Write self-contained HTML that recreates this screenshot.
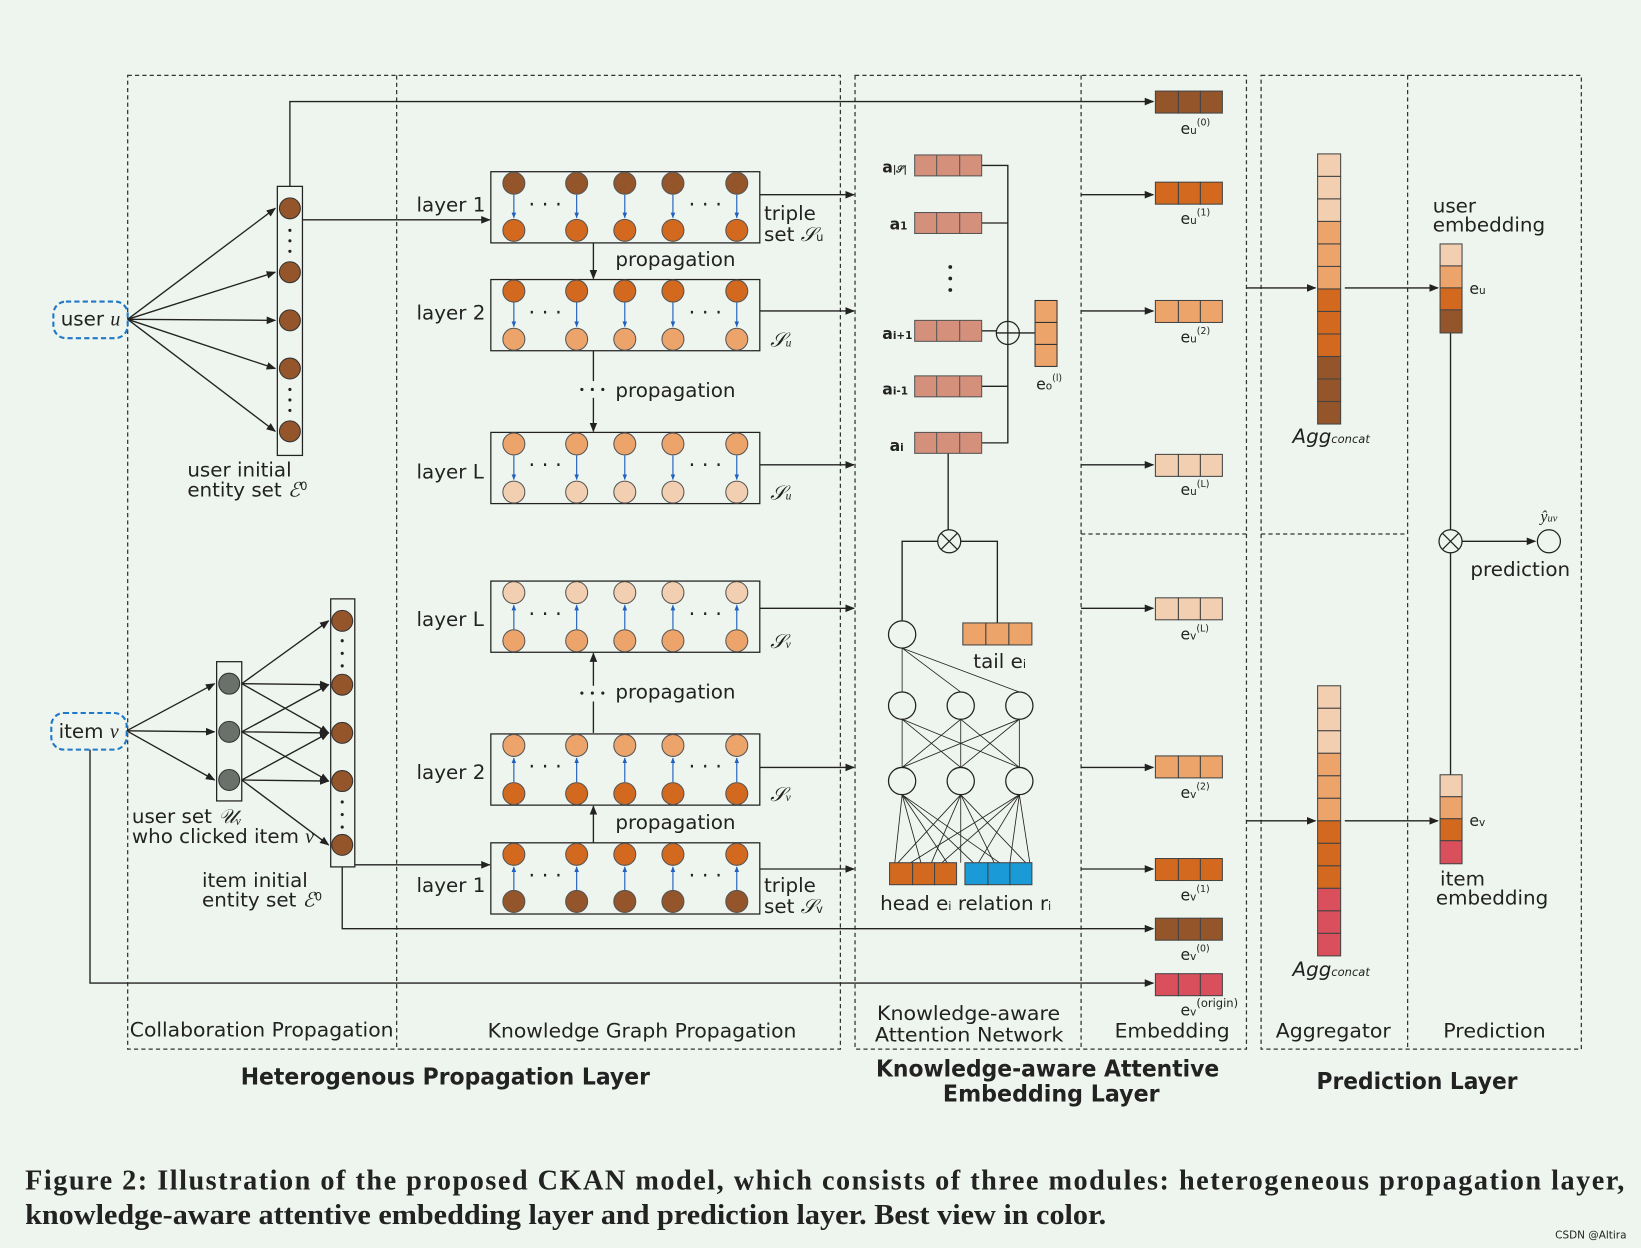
<!DOCTYPE html>
<html><head><meta charset="utf-8"><style>
html,body{margin:0;padding:0;background:#eef5ee;}
svg{display:block}
text{font-family:"DejaVu Sans","Liberation Sans",sans-serif;fill:#222}
.s{font-family:"Liberation Serif",serif}
</style></head><body>
<svg width="1641" height="1248" viewBox="0 0 1568 1192" preserveAspectRatio="none" xmlns="http://www.w3.org/2000/svg">
<defs>
<marker id="a" viewBox="0 0 10 10" refX="9" refY="5" markerWidth="7" markerHeight="7" orient="auto"><path d="M0,1L10,5L0,9z" fill="#222"/></marker>
<marker id="b" viewBox="0 0 10 10" refX="9" refY="5" markerWidth="5" markerHeight="5" orient="auto"><path d="M0,1L10,5L0,9z" fill="#2060c0"/></marker>
</defs>
<rect width="1568" height="1192" fill="#eef5ee"/>
<g fill="none" stroke="#333" stroke-dasharray="4,3" stroke-width="1.2">
<rect x="122" y="72" width="681" height="930"/><line x1="379" y1="72" x2="379" y2="1002"/>
<rect x="817" y="72" width="374" height="930"/><line x1="1033" y1="72" x2="1033" y2="1002"/><line x1="1033" y1="510" x2="1191" y2="510"/>
<rect x="1205" y="72" width="306" height="930"/><line x1="1345" y1="72" x2="1345" y2="1002"/><line x1="1205" y1="510" x2="1345" y2="510"/>
</g>
<g stroke="#222" stroke-width="1.3" fill="none">
<line x1="122" y1="305" x2="263" y2="199" marker-end="url(#a)"/><line x1="122" y1="305" x2="263" y2="260" marker-end="url(#a)"/><line x1="122" y1="305" x2="263" y2="306" marker-end="url(#a)"/><line x1="122" y1="305" x2="263" y2="352" marker-end="url(#a)"/><line x1="122" y1="305" x2="263" y2="412" marker-end="url(#a)"/>
<polyline points="277,178 277,97 1102,97" marker-end="url(#a)"/>
<line x1="289" y1="210" x2="468" y2="210" marker-end="url(#a)"/>
<line x1="121" y1="698" x2="205" y2="653" marker-end="url(#a)"/><line x1="121" y1="698" x2="205" y2="699" marker-end="url(#a)"/><line x1="121" y1="698" x2="205" y2="745" marker-end="url(#a)"/>
<line x1="231" y1="653" x2="314" y2="593" marker-end="url(#a)"/><line x1="231" y1="653" x2="314" y2="654" marker-end="url(#a)"/><line x1="231" y1="653" x2="314" y2="700" marker-end="url(#a)"/>
<line x1="231" y1="699" x2="314" y2="654" marker-end="url(#a)"/><line x1="231" y1="699" x2="314" y2="700" marker-end="url(#a)"/><line x1="231" y1="699" x2="314" y2="746" marker-end="url(#a)"/>
<line x1="231" y1="745" x2="314" y2="700" marker-end="url(#a)"/><line x1="231" y1="745" x2="314" y2="746" marker-end="url(#a)"/><line x1="231" y1="745" x2="314" y2="807" marker-end="url(#a)"/>
<line x1="339" y1="826" x2="468" y2="826" marker-end="url(#a)"/>
<polyline points="327,828 327,887 1102,887" marker-end="url(#a)"/>
<polyline points="86,716 86,939 1102,939" marker-end="url(#a)"/>
<line x1="567" y1="232" x2="567" y2="266" marker-end="url(#a)"/><line x1="567" y1="335" x2="567" y2="364"/><line x1="567" y1="380" x2="567" y2="412" marker-end="url(#a)"/>
<line x1="567" y1="700" x2="567" y2="670"/><line x1="567" y1="655" x2="567" y2="624" marker-end="url(#a)"/><line x1="567" y1="805" x2="567" y2="770" marker-end="url(#a)"/>
<line x1="726" y1="186" x2="816" y2="186" marker-end="url(#a)"/><line x1="726" y1="297" x2="816" y2="297" marker-end="url(#a)"/><line x1="726" y1="444" x2="816" y2="444" marker-end="url(#a)"/>
<line x1="726" y1="581" x2="816" y2="581" marker-end="url(#a)"/><line x1="726" y1="733" x2="816" y2="733" marker-end="url(#a)"/><line x1="726" y1="830" x2="816" y2="830" marker-end="url(#a)"/>
<line x1="1033" y1="186" x2="1102" y2="186" marker-end="url(#a)"/><line x1="1033" y1="297" x2="1102" y2="297" marker-end="url(#a)"/><line x1="1033" y1="444" x2="1102" y2="444" marker-end="url(#a)"/>
<line x1="1033" y1="581" x2="1102" y2="581" marker-end="url(#a)"/><line x1="1033" y1="733" x2="1102" y2="733" marker-end="url(#a)"/><line x1="1033" y1="830" x2="1102" y2="830" marker-end="url(#a)"/>
<polyline points="938,158 963,158 963,423 938,423"/><line x1="938" y1="213" x2="963" y2="213"/><line x1="938" y1="316" x2="952" y2="316"/><line x1="938" y1="369" x2="963" y2="369"/>
<line x1="974" y1="318" x2="989" y2="318"/>
<line x1="906" y1="433" x2="906" y2="506"/>
<polyline points="896,517 862,517 862,593"/><polyline points="918,517 953,517 953,595"/>
<g stroke-width="0.8">
<line x1="862" y1="619" x2="862" y2="661"/><line x1="862" y1="619" x2="918" y2="661"/><line x1="862" y1="619" x2="974" y2="661"/>
<line x1="862" y1="687" x2="862" y2="733"/><line x1="862" y1="687" x2="918" y2="733"/><line x1="862" y1="687" x2="974" y2="733"/>
<line x1="918" y1="687" x2="862" y2="733"/><line x1="918" y1="687" x2="918" y2="733"/><line x1="918" y1="687" x2="974" y2="733"/>
<line x1="974" y1="687" x2="862" y2="733"/><line x1="974" y1="687" x2="918" y2="733"/><line x1="974" y1="687" x2="974" y2="733"/>
<line x1="862" y1="759" x2="855" y2="824"/><line x1="862" y1="759" x2="880" y2="824"/><line x1="862" y1="759" x2="905" y2="824"/><line x1="862" y1="759" x2="930" y2="824"/><line x1="862" y1="759" x2="955" y2="824"/>
<line x1="918" y1="759" x2="858" y2="824"/><line x1="918" y1="759" x2="890" y2="824"/><line x1="918" y1="759" x2="918" y2="824"/><line x1="918" y1="759" x2="950" y2="824"/><line x1="918" y1="759" x2="980" y2="824"/>
<line x1="974" y1="759" x2="870" y2="824"/><line x1="974" y1="759" x2="900" y2="824"/><line x1="974" y1="759" x2="935" y2="824"/><line x1="974" y1="759" x2="965" y2="824"/><line x1="974" y1="759" x2="984" y2="824"/>
</g>
<line x1="1191" y1="275" x2="1257" y2="275" marker-end="url(#a)"/><line x1="1285" y1="275" x2="1374" y2="275" marker-end="url(#a)"/>
<line x1="1191" y1="784" x2="1257" y2="784" marker-end="url(#a)"/><line x1="1285" y1="784" x2="1374" y2="784" marker-end="url(#a)"/>
<line x1="1386" y1="318" x2="1386" y2="506"/><line x1="1386" y1="528" x2="1386" y2="740"/>
<line x1="1397" y1="517" x2="1467" y2="517" marker-end="url(#a)"/>
</g>
<rect x="265" y="178" width="24" height="257" fill="none" stroke="#222" stroke-width="1.2"/>
<rect x="207" y="632" width="24" height="133" fill="none" stroke="#222" stroke-width="1.2"/>
<rect x="316" y="572" width="23" height="256" fill="none" stroke="#222" stroke-width="1.2"/>
<g stroke="#333" stroke-width="1" fill="#94552a">
<circle cx="277" cy="199" r="10"/><circle cx="277" cy="260" r="10"/><circle cx="277" cy="306" r="10"/><circle cx="277" cy="352" r="10"/><circle cx="277" cy="412" r="10"/>
<circle cx="327" cy="593" r="10"/><circle cx="327" cy="654" r="10"/><circle cx="327" cy="700" r="10"/><circle cx="327" cy="746" r="10"/><circle cx="327" cy="807" r="10"/>
<g fill="#6a706a"><circle cx="219" cy="653" r="10"/><circle cx="219" cy="699" r="10"/><circle cx="219" cy="745" r="10"/></g>
</g>
<g fill="#222"><circle cx="277" cy="220" r="1.5"/><circle cx="277" cy="230" r="1.5"/><circle cx="277" cy="240" r="1.5"/><circle cx="277" cy="372" r="1.5"/><circle cx="277" cy="382" r="1.5"/><circle cx="277" cy="392" r="1.5"/>
<circle cx="327" cy="612" r="1.5"/><circle cx="327" cy="624" r="1.5"/><circle cx="327" cy="636" r="1.5"/><circle cx="327" cy="766" r="1.5"/><circle cx="327" cy="778" r="1.5"/><circle cx="327" cy="790" r="1.5"/>
<circle cx="908" cy="255" r="1.8"/><circle cx="908" cy="266" r="1.8"/><circle cx="908" cy="277" r="1.8"/>
<circle cx="556" cy="372" r="1.5"/><circle cx="566" cy="372" r="1.5"/><circle cx="576" cy="372" r="1.5"/>
<circle cx="556" cy="662" r="1.5"/><circle cx="566" cy="662" r="1.5"/><circle cx="576" cy="662" r="1.5"/>
</g>
<g stroke="#222" stroke-width="1.2" fill="none">
<rect x="469" y="164" width="257" height="68"/><rect x="469" y="267" width="257" height="68"/><rect x="469" y="413" width="257" height="68"/>
<rect x="469" y="555" width="257" height="68"/><rect x="469" y="701" width="257" height="68"/><rect x="469" y="805" width="257" height="68"/>
</g>
<g stroke="#2060c0" stroke-width="1.1">
<g marker-end="url(#b)">
<line x1="491" y1="186" x2="491" y2="208"/><line x1="551" y1="186" x2="551" y2="208"/><line x1="597" y1="186" x2="597" y2="208"/><line x1="643" y1="186" x2="643" y2="208"/><line x1="704" y1="186" x2="704" y2="208"/>
<line x1="491" y1="289" x2="491" y2="312"/><line x1="551" y1="289" x2="551" y2="312"/><line x1="597" y1="289" x2="597" y2="312"/><line x1="643" y1="289" x2="643" y2="312"/><line x1="704" y1="289" x2="704" y2="312"/>
<line x1="491" y1="435" x2="491" y2="458"/><line x1="551" y1="435" x2="551" y2="458"/><line x1="597" y1="435" x2="597" y2="458"/><line x1="643" y1="435" x2="643" y2="458"/><line x1="704" y1="435" x2="704" y2="458"/>
<line x1="491" y1="601" x2="491" y2="578"/><line x1="551" y1="601" x2="551" y2="578"/><line x1="597" y1="601" x2="597" y2="578"/><line x1="643" y1="601" x2="643" y2="578"/><line x1="704" y1="601" x2="704" y2="578"/>
<line x1="491" y1="747" x2="491" y2="724"/><line x1="551" y1="747" x2="551" y2="724"/><line x1="597" y1="747" x2="597" y2="724"/><line x1="643" y1="747" x2="643" y2="724"/><line x1="704" y1="747" x2="704" y2="724"/>
<line x1="491" y1="850" x2="491" y2="828"/><line x1="551" y1="850" x2="551" y2="828"/><line x1="597" y1="850" x2="597" y2="828"/><line x1="643" y1="850" x2="643" y2="828"/><line x1="704" y1="850" x2="704" y2="828"/>
</g></g>
<g stroke="#555" stroke-width="1">
<g fill="#94552a"><circle cx="491" cy="175" r="10.5"/><circle cx="551" cy="175" r="10.5"/><circle cx="597" cy="175" r="10.5"/><circle cx="643" cy="175" r="10.5"/><circle cx="704" cy="175" r="10.5"/>
<circle cx="491" cy="861" r="10.5"/><circle cx="551" cy="861" r="10.5"/><circle cx="597" cy="861" r="10.5"/><circle cx="643" cy="861" r="10.5"/><circle cx="704" cy="861" r="10.5"/></g>
<g fill="#d2691e"><circle cx="491" cy="220" r="10.5"/><circle cx="551" cy="220" r="10.5"/><circle cx="597" cy="220" r="10.5"/><circle cx="643" cy="220" r="10.5"/><circle cx="704" cy="220" r="10.5"/>
<circle cx="491" cy="278" r="10.5"/><circle cx="551" cy="278" r="10.5"/><circle cx="597" cy="278" r="10.5"/><circle cx="643" cy="278" r="10.5"/><circle cx="704" cy="278" r="10.5"/>
<circle cx="491" cy="758" r="10.5"/><circle cx="551" cy="758" r="10.5"/><circle cx="597" cy="758" r="10.5"/><circle cx="643" cy="758" r="10.5"/><circle cx="704" cy="758" r="10.5"/>
<circle cx="491" cy="816" r="10.5"/><circle cx="551" cy="816" r="10.5"/><circle cx="597" cy="816" r="10.5"/><circle cx="643" cy="816" r="10.5"/><circle cx="704" cy="816" r="10.5"/></g>
<g fill="#eda46b"><circle cx="491" cy="324" r="10.5"/><circle cx="551" cy="324" r="10.5"/><circle cx="597" cy="324" r="10.5"/><circle cx="643" cy="324" r="10.5"/><circle cx="704" cy="324" r="10.5"/>
<circle cx="491" cy="424" r="10.5"/><circle cx="551" cy="424" r="10.5"/><circle cx="597" cy="424" r="10.5"/><circle cx="643" cy="424" r="10.5"/><circle cx="704" cy="424" r="10.5"/>
<circle cx="491" cy="612" r="10.5"/><circle cx="551" cy="612" r="10.5"/><circle cx="597" cy="612" r="10.5"/><circle cx="643" cy="612" r="10.5"/><circle cx="704" cy="612" r="10.5"/>
<circle cx="491" cy="712" r="10.5"/><circle cx="551" cy="712" r="10.5"/><circle cx="597" cy="712" r="10.5"/><circle cx="643" cy="712" r="10.5"/><circle cx="704" cy="712" r="10.5"/></g>
<g fill="#f2cfb0"><circle cx="491" cy="470" r="10.5"/><circle cx="551" cy="470" r="10.5"/><circle cx="597" cy="470" r="10.5"/><circle cx="643" cy="470" r="10.5"/><circle cx="704" cy="470" r="10.5"/>
<circle cx="491" cy="566" r="10.5"/><circle cx="551" cy="566" r="10.5"/><circle cx="597" cy="566" r="10.5"/><circle cx="643" cy="566" r="10.5"/><circle cx="704" cy="566" r="10.5"/></g>
</g>
<g font-size="20" fill="#222">
<text x="505" y="202">· · ·</text><text x="658" y="202">· · ·</text><text x="505" y="305">· · ·</text><text x="658" y="305">· · ·</text>
<text x="505" y="451">· · ·</text><text x="658" y="451">· · ·</text><text x="505" y="593">· · ·</text><text x="658" y="593">· · ·</text>
<text x="505" y="739">· · ·</text><text x="658" y="739">· · ·</text><text x="505" y="843">· · ·</text><text x="658" y="843">· · ·</text>
</g>
<g stroke="#555" stroke-width="1" fill="#d4907a">
<rect x="874" y="148" width="64" height="20"/><rect x="874" y="203" width="64" height="20"/><rect x="874" y="306" width="64" height="20"/><rect x="874" y="359" width="64" height="20"/><rect x="874" y="413" width="64" height="20"/>
</g>
<g stroke="#555" stroke-width="1">
<line x1="895" y1="148" x2="895" y2="168"/><line x1="917" y1="148" x2="917" y2="168"/><line x1="895" y1="203" x2="895" y2="223"/><line x1="917" y1="203" x2="917" y2="223"/>
<line x1="895" y1="306" x2="895" y2="326"/><line x1="917" y1="306" x2="917" y2="326"/><line x1="895" y1="359" x2="895" y2="379"/><line x1="917" y1="359" x2="917" y2="379"/>
<line x1="895" y1="413" x2="895" y2="433"/><line x1="917" y1="413" x2="917" y2="433"/>
</g>
<g stroke="#333" fill="#eda46b"><rect x="989" y="287" width="21" height="21"/><rect x="989" y="308" width="21" height="21"/><rect x="989" y="329" width="21" height="21"/></g>
<g stroke="#222" stroke-width="1.2" fill="#eef5ee">
<circle cx="963" cy="318" r="11"/><line x1="952" y1="318" x2="974" y2="318"/><line x1="963" y1="307" x2="963" y2="329"/>
<circle cx="907" cy="517" r="11"/><line x1="899" y1="509" x2="915" y2="525"/><line x1="915" y1="509" x2="899" y2="525"/>
<circle cx="1386" cy="517" r="11"/><line x1="1378" y1="509" x2="1394" y2="525"/><line x1="1394" y1="509" x2="1378" y2="525"/>
<circle cx="1480" cy="517" r="11"/>
<circle cx="862" cy="606" r="13"/><circle cx="862" cy="674" r="13"/><circle cx="918" cy="674" r="13"/><circle cx="974" cy="674" r="13"/>
<circle cx="862" cy="746" r="13"/><circle cx="918" cy="746" r="13"/><circle cx="974" cy="746" r="13"/>
</g>
<g stroke="#444" stroke-width="1">
<g fill="#eda46b"><rect x="920" y="595" width="22" height="21"/><rect x="942" y="595" width="22" height="21"/><rect x="964" y="595" width="22" height="21"/></g>
<g fill="#d2691e"><rect x="850" y="824" width="22" height="21"/><rect x="872" y="824" width="21" height="21"/><rect x="893" y="824" width="21" height="21"/></g>
<g fill="#1a9bd8"><rect x="922" y="824" width="22" height="21"/><rect x="944" y="824" width="21" height="21"/><rect x="965" y="824" width="21" height="21"/></g>
<g fill="#94552a"><rect x="1104" y="87" width="22" height="21"/><rect x="1126" y="87" width="21" height="21"/><rect x="1147" y="87" width="21" height="21"/>
<rect x="1104" y="877" width="22" height="21"/><rect x="1126" y="877" width="21" height="21"/><rect x="1147" y="877" width="21" height="21"/></g>
<g fill="#d2691e"><rect x="1104" y="174" width="22" height="21"/><rect x="1126" y="174" width="21" height="21"/><rect x="1147" y="174" width="21" height="21"/>
<rect x="1104" y="820" width="22" height="21"/><rect x="1126" y="820" width="21" height="21"/><rect x="1147" y="820" width="21" height="21"/></g>
<g fill="#eda46b"><rect x="1104" y="287" width="22" height="21"/><rect x="1126" y="287" width="21" height="21"/><rect x="1147" y="287" width="21" height="21"/>
<rect x="1104" y="722" width="22" height="21"/><rect x="1126" y="722" width="21" height="21"/><rect x="1147" y="722" width="21" height="21"/></g>
<g fill="#f2cfb0"><rect x="1104" y="434" width="22" height="21"/><rect x="1126" y="434" width="21" height="21"/><rect x="1147" y="434" width="21" height="21"/>
<rect x="1104" y="571" width="22" height="21"/><rect x="1126" y="571" width="21" height="21"/><rect x="1147" y="571" width="21" height="21"/></g>
<g fill="#d94f5c"><rect x="1104" y="930" width="22" height="21"/><rect x="1126" y="930" width="21" height="21"/><rect x="1147" y="930" width="21" height="21"/></g>
<rect x="1259" y="147" width="22" height="21.5" fill="#f2cfb0"/><rect x="1259" y="168.5" width="22" height="21.5" fill="#f2cfb0"/><rect x="1259" y="190" width="22" height="21.5" fill="#f2cfb0"/>
<rect x="1259" y="211.5" width="22" height="21.5" fill="#eda46b"/><rect x="1259" y="233" width="22" height="21.5" fill="#eda46b"/><rect x="1259" y="254.5" width="22" height="21.5" fill="#eda46b"/>
<rect x="1259" y="276" width="22" height="21.5" fill="#d2691e"/><rect x="1259" y="297.5" width="22" height="21.5" fill="#d2691e"/><rect x="1259" y="319" width="22" height="21.5" fill="#d2691e"/>
<rect x="1259" y="340.5" width="22" height="21.5" fill="#94552a"/><rect x="1259" y="362" width="22" height="21.5" fill="#94552a"/><rect x="1259" y="383.5" width="22" height="21.5" fill="#94552a"/>
<rect x="1259" y="655" width="22" height="21.5" fill="#f2cfb0"/><rect x="1259" y="676.5" width="22" height="21.5" fill="#f2cfb0"/><rect x="1259" y="698" width="22" height="21.5" fill="#f2cfb0"/>
<rect x="1259" y="719.5" width="22" height="21.5" fill="#eda46b"/><rect x="1259" y="741" width="22" height="21.5" fill="#eda46b"/><rect x="1259" y="762.5" width="22" height="21.5" fill="#eda46b"/>
<rect x="1259" y="784" width="22" height="21.5" fill="#d2691e"/><rect x="1259" y="805.5" width="22" height="21.5" fill="#d2691e"/><rect x="1259" y="827" width="22" height="21.5" fill="#d2691e"/>
<rect x="1259" y="848.5" width="22" height="21.5" fill="#d94f5c"/><rect x="1259" y="870" width="22" height="21.5" fill="#d94f5c"/><rect x="1259" y="891.5" width="22" height="21.5" fill="#d94f5c"/>
<rect x="1376" y="233" width="21" height="21" fill="#f2cfb0"/><rect x="1376" y="254" width="21" height="21" fill="#eda46b"/><rect x="1376" y="275" width="21" height="21" fill="#d2691e"/><rect x="1376" y="296" width="21" height="22" fill="#94552a"/>
<rect x="1376" y="740" width="21" height="21" fill="#f2cfb0"/><rect x="1376" y="761" width="21" height="21" fill="#eda46b"/><rect x="1376" y="782" width="21" height="21" fill="#d2691e"/><rect x="1376" y="803" width="21" height="22" fill="#d94f5c"/>
</g>
<rect x="51" y="288" width="71" height="35" rx="12" fill="none" stroke="#1f78c8" stroke-width="2" stroke-dasharray="5,3"/>
<rect x="49" y="681" width="72" height="35" rx="12" fill="none" stroke="#1f78c8" stroke-width="2" stroke-dasharray="5,3"/>
<g font-size="19">
<text x="58" y="311">user <tspan class="s" font-style="italic">u</tspan></text>
<text x="56" y="705">item <tspan class="s" font-style="italic">v</tspan></text>
<text x="179" y="455">user initial</text><text x="179" y="474">entity set <tspan class="s" font-style="italic">ℰ</tspan><tspan font-size="11" dy="-6">0</tspan></text>
<text x="126" y="786">user set <tspan class="s" font-style="italic">𝒰ᵥ</tspan></text><text x="126" y="805">who clicked item <tspan class="s" font-style="italic">v</tspan></text>
<text x="193" y="847">item initial</text><text x="193" y="866">entity set <tspan class="s" font-style="italic">ℰ</tspan><tspan font-size="11" dy="-6">0</tspan></text>
<text x="398" y="202">layer 1</text><text x="398" y="305">layer 2</text><text x="398" y="457">layer L</text>
<text x="398" y="598">layer L</text><text x="398" y="744">layer 2</text><text x="398" y="852">layer 1</text>
<text x="588" y="254">propagation</text><text x="588" y="379">propagation</text><text x="588" y="667">propagation</text><text x="588" y="792">propagation</text>
<text x="730" y="210">triple</text><text x="730" y="230">set <tspan class="s" font-style="italic">𝒮</tspan><tspan font-size="11">u</tspan></text>
<text x="736" y="331" class="s" font-style="italic">𝒮<tspan font-size="11">u</tspan></text><text x="736" y="477" class="s" font-style="italic">𝒮<tspan font-size="11">u</tspan></text>
<text x="736" y="619" class="s" font-style="italic">𝒮<tspan font-size="11">v</tspan></text><text x="736" y="765" class="s" font-style="italic">𝒮<tspan font-size="11">v</tspan></text>
<text x="730" y="852">triple</text><text x="730" y="872">set <tspan class="s" font-style="italic">𝒮</tspan><tspan font-size="11">v</tspan></text>
<text x="930" y="638">tail e<tspan font-size="11">i</tspan></text>
<text x="841" y="869">head e<tspan font-size="11">i</tspan> relation r<tspan font-size="11">i</tspan></text>
<text x="1405" y="550">prediction</text>
<text x="1369" y="203">user</text><text x="1369" y="221">embedding</text>
<text x="1376" y="846">item</text><text x="1372" y="864">embedding</text>
<text x="1404" y="281" font-size="15">e<tspan font-size="10">u</tspan></text><text x="1404" y="789" font-size="15">e<tspan font-size="10">v</tspan></text>
<text x="1235" y="423" font-style="italic">Agg<tspan font-size="11">concat</tspan></text><text x="1235" y="932" font-style="italic">Agg<tspan font-size="11">concat</tspan></text>
<text x="1472" y="498" class="s" font-style="italic" font-size="15">ŷ<tspan font-size="10">uv</tspan></text>
</g>
<g font-size="15" font-weight="bold">
<text x="843" y="165">a<tspan font-size="9">|𝒮|</tspan></text><text x="850" y="219">a<tspan font-size="10">1</tspan></text><text x="843" y="324">a<tspan font-size="10">i+1</tspan></text><text x="843" y="377">a<tspan font-size="10">i-1</tspan></text><text x="850" y="431">a<tspan font-size="10">i</tspan></text>
</g>
<g font-size="15">
<text x="990" y="372">e<tspan font-size="10">o</tspan><tspan font-size="9" dy="-8">(l)</tspan></text>
<text x="1128" y="128">e<tspan font-size="10">u</tspan><tspan font-size="9" dy="-8">(0)</tspan></text><text x="1128" y="214">e<tspan font-size="10">u</tspan><tspan font-size="9" dy="-8">(1)</tspan></text>
<text x="1128" y="327">e<tspan font-size="10">u</tspan><tspan font-size="9" dy="-8">(2)</tspan></text><text x="1128" y="473">e<tspan font-size="10">u</tspan><tspan font-size="9" dy="-8">(L)</tspan></text>
<text x="1128" y="611">e<tspan font-size="10">v</tspan><tspan font-size="9" dy="-8">(L)</tspan></text><text x="1128" y="762">e<tspan font-size="10">v</tspan><tspan font-size="9" dy="-8">(2)</tspan></text>
<text x="1128" y="860">e<tspan font-size="10">v</tspan><tspan font-size="9" dy="-8">(1)</tspan></text><text x="1128" y="917">e<tspan font-size="10">v</tspan><tspan font-size="9" dy="-8">(0)</tspan></text>
<text x="1128" y="970">e<tspan font-size="10">v</tspan><tspan font-size="11" dy="-8">(origin)</tspan></text>
</g>
<g font-size="19" fill="#333">
<text x="124" y="990" textLength="252" lengthAdjust="spacingAndGlyphs">Collaboration Propagation</text><text x="466" y="991" textLength="295" lengthAdjust="spacingAndGlyphs">Knowledge Graph Propagation</text>
<text x="838" y="974" textLength="175" lengthAdjust="spacingAndGlyphs">Knowledge-aware</text><text x="836" y="995" textLength="180" lengthAdjust="spacingAndGlyphs">Attention Network</text>
<text x="1065" y="991" textLength="110" lengthAdjust="spacingAndGlyphs">Embedding</text><text x="1219" y="991" textLength="110" lengthAdjust="spacingAndGlyphs">Aggregator</text><text x="1379" y="991" textLength="98" lengthAdjust="spacingAndGlyphs">Prediction</text>
</g>
<g font-size="22" font-weight="bold" fill="#333">
<text x="230" y="1036" textLength="391" lengthAdjust="spacingAndGlyphs">Heterogenous Propagation Layer</text>
<text x="837" y="1028" textLength="328" lengthAdjust="spacingAndGlyphs">Knowledge-aware Attentive</text><text x="901" y="1052" textLength="207" lengthAdjust="spacingAndGlyphs">Embedding Layer</text>
<text x="1258" y="1040" textLength="192" lengthAdjust="spacingAndGlyphs">Prediction Layer</text>
</g>
<g class="s" font-size="27" font-weight="bold" fill="#111">
<text x="24" y="1136" textLength="1528" lengthAdjust="spacing" class="s">Figure 2: Illustration of the proposed CKAN model, which consists of three modules: heterogeneous propagation layer,</text>
<text x="24" y="1169" textLength="1033" lengthAdjust="spacingAndGlyphs" class="s">knowledge-aware attentive embedding layer and prediction layer. Best view in color.</text>
</g>
<text x="1486" y="1183" font-size="10" fill="#888">CSDN @Altira</text>
</svg>
</body></html>
